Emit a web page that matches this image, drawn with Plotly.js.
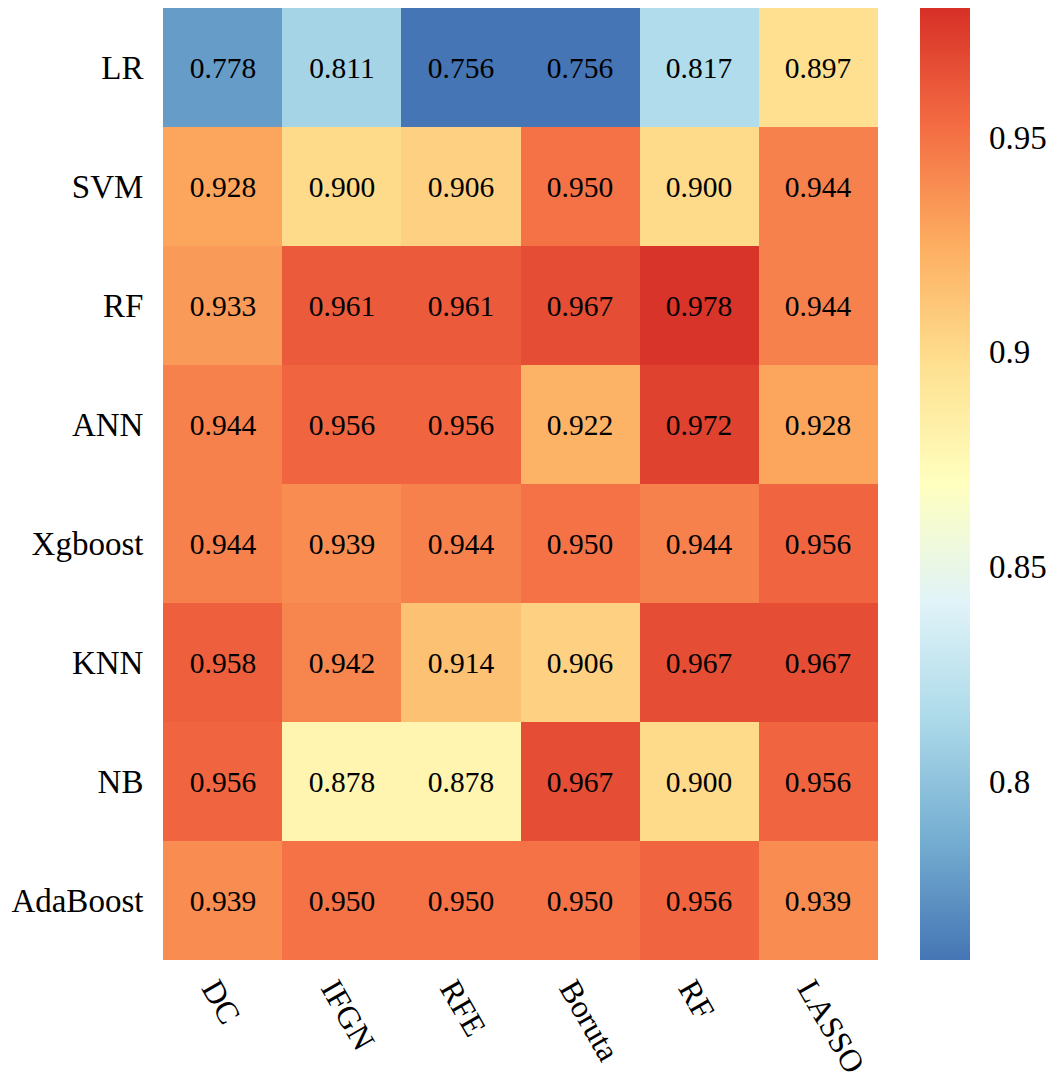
<!DOCTYPE html>
<html>
<head>
<meta charset="utf-8">
<script src="https://cdn.plot.ly/plotly-3.0.1.min.js"></script>
<style>html,body{margin:0;padding:0;background:#fff;}#chart{width:1052px;height:1079px;}</style>
</head>
<body>
<div id="chart"></div>
<script>
const methods = ["DC", "IFGN", "RFE", "Boruta", "RF", "LASSO"];
const models = ["LR", "SVM", "RF", "ANN", "Xgboost", "KNN", "NB", "AdaBoost"];
const rowLR = [0.778, 0.811, 0.756, 0.756, 0.817, 0.897];
const rowSVM = [0.928, 0.900, 0.906, 0.950, 0.900, 0.944];
const rowRF = [0.933, 0.961, 0.961, 0.967, 0.978, 0.944];
const rowANN = [0.944, 0.956, 0.956, 0.922, 0.972, 0.928];
const rowXgboost = [0.944, 0.939, 0.944, 0.950, 0.944, 0.956];
const rowKNN = [0.958, 0.942, 0.914, 0.906, 0.967, 0.967];
const rowNB = [0.956, 0.878, 0.878, 0.967, 0.900, 0.956];
const rowAdaBoost = [0.939, 0.950, 0.950, 0.950, 0.956, 0.939];
const colorbarTicks = [0.8, 0.85, 0.9, 0.95];
const colorMin = 0.7585;
const colorMax = 0.980;

const z = [rowLR, rowSVM, rowRF, rowANN, rowXgboost, rowKNN, rowNB, rowAdaBoost];
const text = z.map(r => r.map(v => v.toFixed(3)));

const rdylbu = ["#4575b4","#74add1","#abd9e9","#e0f3f8","#ffffbf","#fee090","#fdae61","#f46d43","#d73027"];
const colorscale = rdylbu.map((c, i) => [i / (rdylbu.length - 1), c]);

const FONT = "Liberation Serif";

const trace = {
  type: "heatmap",
  x: methods,
  y: models,
  z: z,
  text: text,
  texttemplate: "%{text}",
  textfont: {family: FONT, size: 29.5, color: "#000"},
  colorscale: colorscale,
  zmin: colorMin,
  zmax: colorMax,
  xgap: 0, ygap: 0,
  hoverinfo: "skip",
  colorbar: {
    xref: "container", x: 920 / 1052, xanchor: "left", xpad: 0,
    yref: "paper", y: 0.5, yanchor: "middle", ypad: 0, len: 1, lenmode: "fraction",
    thickness: 50, thicknessmode: "pixels",
    outlinewidth: 0,
    tickvals: colorbarTicks,
    ticktext: colorbarTicks.map(String),
    ticks: "outside", ticklen: 13, tickcolor: "rgba(0,0,0,0)",
    tickfont: {family: FONT, size: 33, color: "#000"}
  }
};

const layout = {
  width: 1052, height: 1079,
  margin: {l: 163, r: 174, t: 8, b: 119, pad: 0},
  paper_bgcolor: "#fff", plot_bgcolor: "#fff",
  font: {family: FONT, color: "#000"},
  xaxis: {
    tickangle: 60, ticks: "", ticklen: 0, ticklabelshift: -8, ticklabelstandoff: 3,
    tickfont: {family: FONT, size: 32, color: "#000"},
    showgrid: false, zeroline: false, showline: false, automargin: false
  },
  yaxis: {
    autorange: "reversed", ticks: "outside", ticklen: 12, tickcolor: "rgba(0,0,0,0)",
    tickfont: {family: FONT, size: 33, color: "#000"},
    showgrid: false, zeroline: false, showline: false, automargin: false
  }
};

Plotly.newPlot("chart", [trace], layout, {displayModeBar: false, staticPlot: true});
</script>
</body>
</html>
